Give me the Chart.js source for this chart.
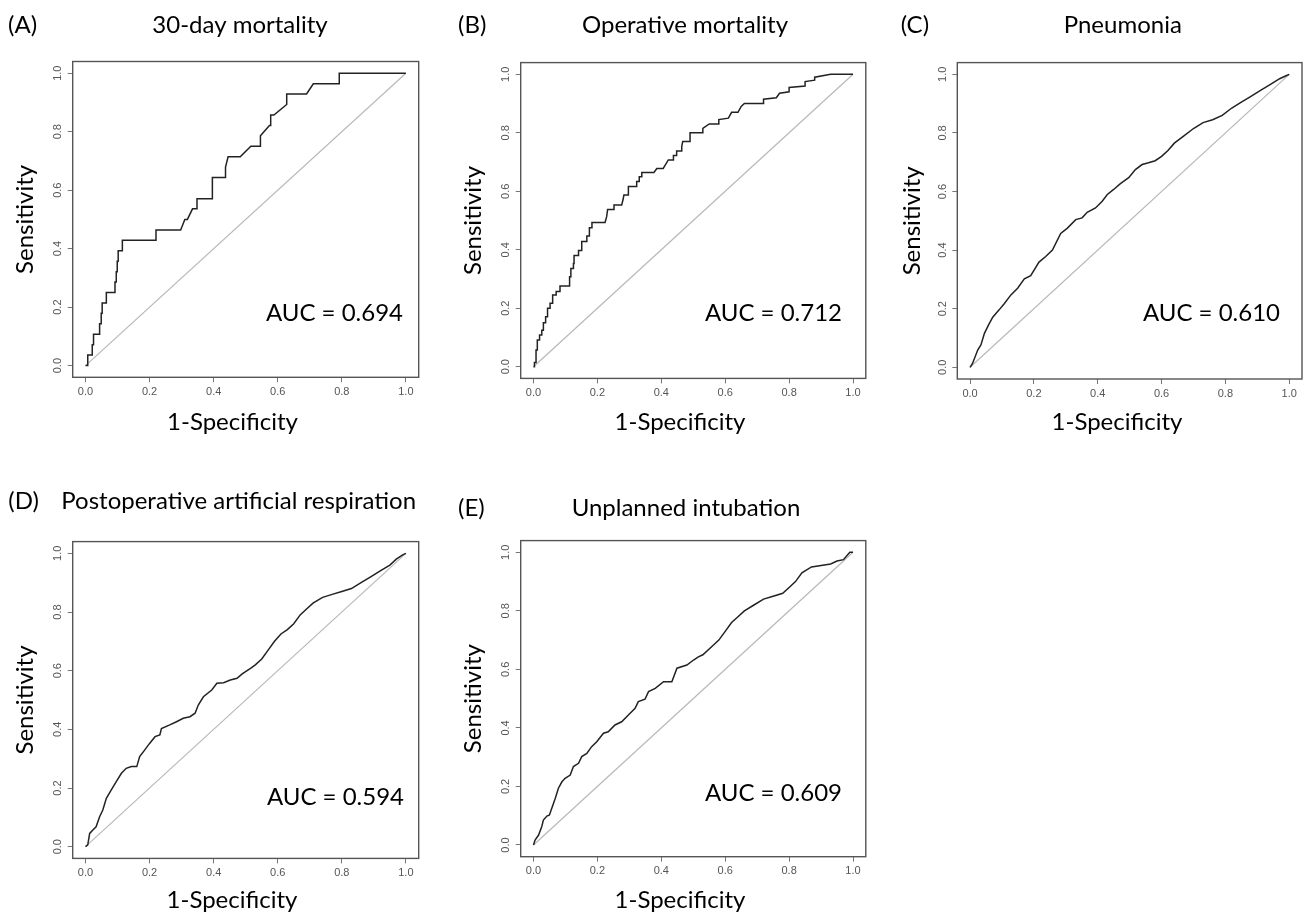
<!DOCTYPE html>
<html><head><meta charset="utf-8">
<script src="https://cdn.jsdelivr.net/npm/chart.js@4/dist/chart.umd.min.js"></script>
<style>
html,body{margin:0;padding:0;background:#fff;}
body{width:1306px;height:914px;position:relative;overflow:hidden;}
canvas{position:absolute;}
</style></head><body>
<canvas id="cA"></canvas><canvas id="cB"></canvas><canvas id="cC"></canvas><canvas id="cD"></canvas><canvas id="cE"></canvas>
<script>
// ---------- DATA ----------
const tickValues = [0, 0.2, 0.4, 0.6, 0.8, 1.0];
const tickLabels = ['0.0', '0.2', '0.4', '0.6', '0.8', '1.0'];
const panelLetters = ['(A)', '(B)', '(C)', '(D)', '(E)'];
const panelTitles = ['30-day mortality', 'Operative mortality', 'Pneumonia', 'Postoperative artificial respiration', 'Unplanned intubation'];
const aucLabels = ['AUC = 0.694', 'AUC = 0.712', 'AUC = 0.610', 'AUC = 0.594', 'AUC = 0.609'];
const xAxisTitle = '1-Specificity';
const yAxisTitle = 'Sensitivity';
const diagX = [0, 1];
const diagY = [0, 1];

const rocA_x = [0,0.007,0.007,0.021,0.021,0.025,0.025,0.044,0.044,0.049,0.049,0.052,0.052,0.065,0.065,0.092,0.092,0.096,0.096,0.099,0.099,0.102,0.102,0.115,0.115,0.22,0.22,0.297,0.31,0.318,0.334,0.348,0.348,0.396,0.396,0.437,0.437,0.445,0.483,0.516,0.546,0.546,0.574,0.578,0.578,0.588,0.628,0.628,0.69,0.711,0.792,0.792,1];
const rocA_y = [0,0,0.036,0.036,0.071,0.071,0.107,0.107,0.143,0.143,0.179,0.179,0.214,0.214,0.25,0.25,0.286,0.286,0.321,0.321,0.357,0.357,0.393,0.393,0.429,0.429,0.464,0.464,0.5,0.5,0.536,0.536,0.571,0.571,0.643,0.643,0.679,0.714,0.714,0.75,0.75,0.786,0.821,0.821,0.857,0.857,0.893,0.929,0.929,0.964,0.964,1,1];

const rocB_x = [0,0.003,0.003,0.008,0.008,0.012,0.012,0.019,0.019,0.026,0.026,0.031,0.031,0.038,0.038,0.044,0.044,0.052,0.052,0.06,0.06,0.071,0.071,0.083,0.083,0.113,0.113,0.117,0.117,0.125,0.125,0.127,0.127,0.141,0.141,0.151,0.151,0.167,0.167,0.175,0.175,0.183,0.183,0.224,0.229,0.232,0.252,0.252,0.276,0.28,0.283,0.297,0.297,0.323,0.323,0.331,0.331,0.339,0.339,0.377,0.386,0.406,0.422,0.438,0.438,0.448,0.448,0.464,0.464,0.467,0.49,0.49,0.53,0.53,0.55,0.58,0.58,0.61,0.62,0.64,0.65,0.66,0.72,0.72,0.76,0.77,0.8,0.8,0.85,0.85,0.88,0.88,0.93,1];
const rocB_y = [0,0,0.014,0.014,0.057,0.057,0.091,0.091,0.108,0.108,0.125,0.125,0.15,0.15,0.171,0.171,0.2,0.2,0.217,0.217,0.245,0.245,0.257,0.257,0.276,0.276,0.308,0.308,0.336,0.336,0.353,0.353,0.38,0.38,0.397,0.397,0.428,0.428,0.447,0.447,0.475,0.475,0.493,0.493,0.513,0.538,0.538,0.553,0.553,0.57,0.587,0.587,0.616,0.616,0.633,0.633,0.65,0.65,0.664,0.664,0.678,0.678,0.707,0.707,0.722,0.722,0.738,0.738,0.753,0.77,0.77,0.8,0.8,0.815,0.83,0.83,0.845,0.85,0.87,0.87,0.89,0.9,0.9,0.915,0.92,0.935,0.94,0.955,0.96,0.975,0.98,0.99,1,1];

const rocC_x = [0,0.008,0.024,0.034,0.045,0.058,0.071,0.091,0.107,0.128,0.149,0.17,0.19,0.216,0.237,0.258,0.284,0.305,0.331,0.351,0.367,0.393,0.414,0.43,0.45,0.471,0.497,0.518,0.539,0.559,0.58,0.6,0.62,0.64,0.67,0.7,0.73,0.76,0.79,0.82,0.85,0.88,0.91,0.94,0.97,0.99,1];
const rocC_y = [0,0.014,0.059,0.076,0.116,0.145,0.171,0.196,0.217,0.247,0.27,0.302,0.313,0.359,0.378,0.4,0.457,0.475,0.504,0.51,0.529,0.544,0.567,0.59,0.607,0.627,0.647,0.675,0.692,0.698,0.705,0.72,0.74,0.765,0.79,0.815,0.835,0.845,0.86,0.885,0.905,0.925,0.945,0.965,0.985,0.995,1];

const rocD_x = [0,0.007,0.013,0.023,0.033,0.044,0.054,0.065,0.08,0.096,0.112,0.127,0.143,0.16,0.169,0.185,0.2,0.217,0.232,0.237,0.263,0.284,0.305,0.326,0.342,0.352,0.368,0.394,0.41,0.431,0.452,0.473,0.489,0.515,0.53,0.55,0.57,0.59,0.61,0.63,0.65,0.67,0.69,0.71,0.74,0.77,0.8,0.83,0.86,0.89,0.92,0.95,0.97,0.99,1];
const rocD_y = [0,0.006,0.045,0.057,0.068,0.102,0.125,0.165,0.193,0.222,0.25,0.267,0.273,0.273,0.307,0.33,0.352,0.375,0.381,0.403,0.415,0.426,0.4375,0.443,0.455,0.483,0.511,0.534,0.557,0.559,0.568,0.574,0.589,0.608,0.62,0.64,0.67,0.7,0.725,0.74,0.76,0.79,0.81,0.83,0.85,0.86,0.87,0.88,0.9,0.92,0.94,0.96,0.98,0.995,1];

const rocE_x = [0,0.005,0.016,0.026,0.031,0.042,0.05,0.057,0.068,0.078,0.089,0.099,0.115,0.125,0.141,0.151,0.167,0.182,0.198,0.219,0.234,0.255,0.276,0.297,0.318,0.328,0.349,0.36,0.381,0.407,0.433,0.449,0.48,0.501,0.516,0.53,0.56,0.58,0.6,0.62,0.64,0.66,0.69,0.72,0.75,0.78,0.8,0.82,0.84,0.87,0.9,0.93,0.95,0.97,0.99,1];
const rocE_y = [0,0.017,0.034,0.063,0.085,0.099,0.1025,0.125,0.159,0.194,0.216,0.228,0.239,0.268,0.279,0.302,0.313,0.336,0.353,0.382,0.387,0.41,0.421,0.444,0.467,0.49,0.498,0.524,0.535,0.558,0.558,0.604,0.615,0.632,0.643,0.65,0.68,0.7,0.73,0.76,0.78,0.8,0.82,0.84,0.85,0.86,0.88,0.9,0.93,0.95,0.955,0.96,0.97,0.975,1.0,1];

const rocX = [rocA_x, rocB_x, rocC_x, rocD_x, rocE_x];
const rocY = [rocA_y, rocB_y, rocC_y, rocD_y, rocE_y];

// ---------- LAYOUT (page pixels) ----------
const layout = [
  {id:'cA', cv:[0,0,450,450],   box:[72.7,61.5,418.7,377.3], letter:[8,25], title:[240,25], xt:[232.5,422], yt:25,  auc:[403,313]},
  {id:'cB', cv:[450,0,440,450], box:[520.7,62.6,865.8,378.4], letter:[458,25], title:[685,25], xt:[680,422], yt:473, auc:[842,313]},
  {id:'cC', cv:[890,0,416,450], box:[957.3,62.6,1302,379], letter:[900.7,25], title:[1122.8,25], xt:[1117,422], yt:912, auc:[1280,313]},
  {id:'cD', cv:[0,470,450,444], box:[72.7,541.6,418.7,858.4], letter:[8.3,501], title:[238.7,501], xt:[232,900], yt:25, auc:[404,797]},
  {id:'cE', cv:[450,470,440,444], box:[520.7,540.6,865.8,856.7], letter:[458,508], title:[686,508], xt:[680,900], yt:473, auc:[842,793]}
];

const BIG_FONT = 'Lato';
const BIG_SIZE = 24;
const TICK_FONT = {family:'"Liberation Sans", Arial, sans-serif', size:11};

const framePlugin = {
  id:'frame',
  afterDraw(chart, args, opts) {
    const {ctx, chartArea:a} = chart;
    ctx.save();
    ctx.strokeStyle = '#555';
    ctx.lineWidth = 1.4;
    ctx.strokeRect(a.left, a.top, a.right - a.left, a.bottom - a.top);
    ctx.fillStyle = '#000';
    ctx.font = BIG_SIZE + 'px ' + BIG_FONT;
    ctx.textBaseline = 'middle';
    for (const t of opts.texts) {
      ctx.textAlign = t.align;
      ctx.fillText(t.text, t.x, t.y);
    }
    ctx.restore();
  }
};

layout.forEach((L, i) => {
  const cv = document.getElementById(L.id);
  const [cl, ct, cw, ch] = L.cv;
  cv.style.left = cl + 'px'; cv.style.top = ct + 'px';
  cv.width = cw; cv.height = ch;
  const [bl, bt, br, bb] = L.box;
  const lineH = BIG_SIZE * 1.2;
  const texts = [
    {text: panelLetters[i], x: L.letter[0] - cl, y: L.letter[1] - ct, align:'left'},
    {text: panelTitles[i], x: L.title[0] - cl, y: L.title[1] - ct, align:'center'},
    {text: xAxisTitle, x: L.xt[0] - cl, y: L.xt[1] - ct, align:'center'},
    {text: aucLabels[i], x: L.auc[0] - cl, y: L.auc[1] - ct, align:'right'}
  ];
  const roc = rocX[i].map((x, k) => ({x, y: rocY[i][k]}));
  const diag = diagX.map((x, k) => ({x, y: diagY[k]}));
  new Chart(cv, {
    type: 'scatter',
    data: {datasets: [
      {data: diag, showLine: true, borderColor: '#b8b8b8', borderWidth: 1.2, pointRadius: 0, fill: false, order: 2},
      {data: roc, showLine: true, borderColor: '#222', borderWidth: 1.5, pointRadius: 0, fill: false, tension: 0, order: 1}
    ]},
    options: {
      responsive: false, animation: false, events: [],
      layout: {padding: {top: bt - ct, right: (cl + cw) - br, left: 0, bottom: 0}},
      plugins: {legend: {display: false}, tooltip: {enabled: false}, title: {display: false}, frame: {texts}},
      scales: {
        x: {
          type: 'linear', min: -0.04, max: 1.04,
          afterBuildTicks: s => { s.ticks = tickValues.map(v => ({value: v})); },
          afterFit: s => { s.height = (ct + ch) - bb; },
          ticks: {font: TICK_FONT, color: '#555', padding: 3, maxRotation: 0, minRotation: 0,
                  callback: v => tickLabels[tickValues.indexOf(v)]},
          grid: {display: true, drawOnChartArea: false, drawTicks: true, tickLength: 5, color: '#777', lineWidth: 1},
          border: {display: false}
        },
        y: {
          type: 'linear', min: -0.04, max: 1.04,
          afterBuildTicks: s => { s.ticks = tickValues.map(v => ({value: v})); },
          afterFit: s => { s.width = bl - cl; },
          ticks: {font: TICK_FONT, color: '#555', padding: 2, minRotation: 90, maxRotation: 90, crossAlign: 'center',
                  callback: v => tickLabels[tickValues.indexOf(v)]},
          grid: {display: true, drawOnChartArea: false, drawTicks: true, tickLength: 5, color: '#777', lineWidth: 1},
          border: {display: false},
          title: {display: true, text: yAxisTitle, color: '#000', font: {family: BIG_FONT, size: BIG_SIZE},
                  padding: {top: (L.yt - cl) - lineH / 2, bottom: 0}}
        }
      }
    },
    plugins: [framePlugin]
  });
});
</script>
</body></html>
